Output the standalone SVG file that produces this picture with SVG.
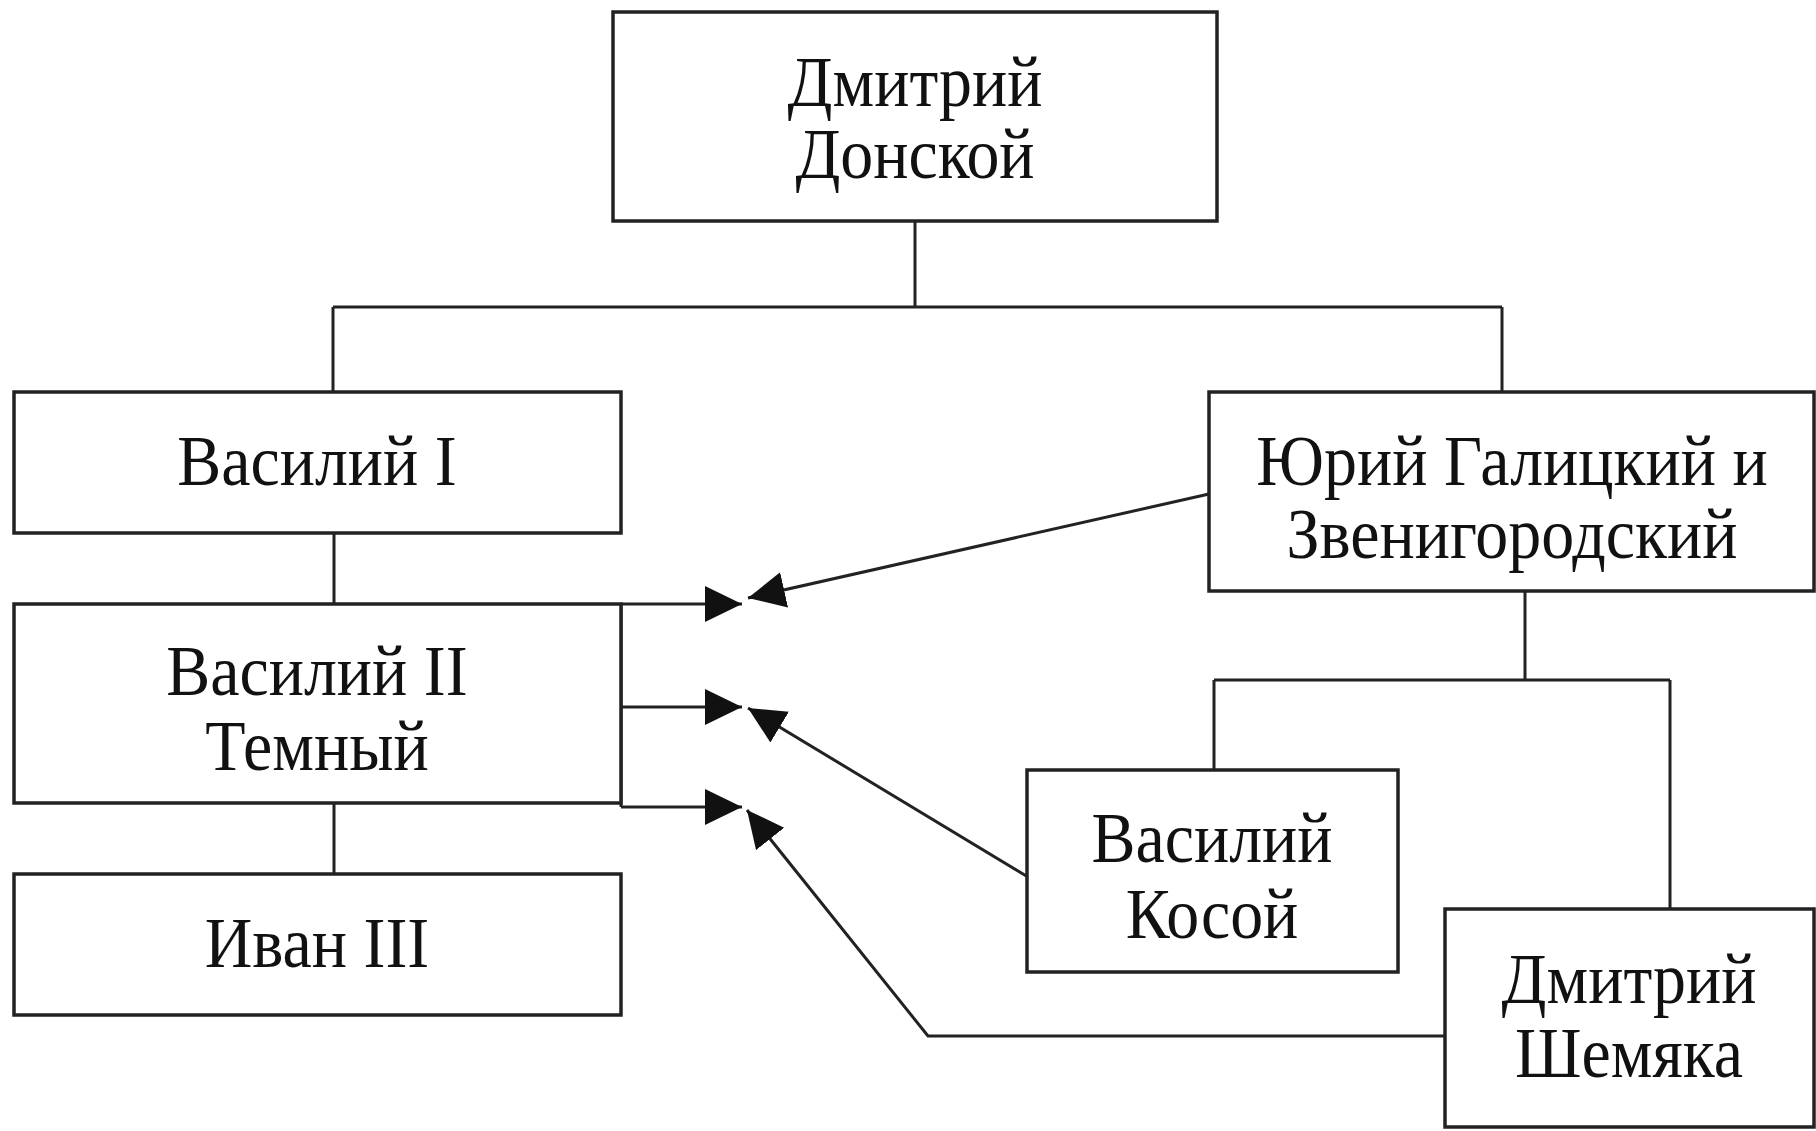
<svg xmlns="http://www.w3.org/2000/svg" width="1816" height="1131" viewBox="0 0 1816 1131">
<style>
.box{fill:#fff;stroke:#222;stroke-width:3.5}
.ln{fill:none;stroke:#222;stroke-width:3}
.t{font-family:"Liberation Serif","Times New Roman",serif;font-size:72px;fill:#111;text-anchor:middle}
</style>
<defs>
<marker id="ah" markerUnits="userSpaceOnUse" markerWidth="40" markerHeight="38" refX="37" refY="18" orient="auto">
<path d="M0,0 L37,18 L0,36 z" fill="#111"/>
</marker>
</defs>
<rect width="1816" height="1131" fill="#fff"/>
<g id="connectors">
<path class="ln" d="M915,221 V307 M333,307 H1502 M333,307 V392 M1502,307 V392"/>
<path class="ln" d="M334,533 V604 M334,803 V874"/>
<path class="ln" d="M1525,591 V680 M1214,680 H1670 M1214,680 V770 M1670,680 V909"/>
<path class="ln" d="M621,604 V807"/>
<line class="ln" x1="621" y1="604" x2="742" y2="604" marker-end="url(#ah)"/>
<line class="ln" x1="621" y1="707" x2="742" y2="707" marker-end="url(#ah)"/>
<line class="ln" x1="621" y1="807" x2="742" y2="807" marker-end="url(#ah)"/>
<line class="ln" x1="1209" y1="494" x2="748" y2="598" marker-end="url(#ah)"/>
<line class="ln" x1="1028" y1="877" x2="748" y2="708" marker-end="url(#ah)"/>
<polyline class="ln" points="1445,1036 928,1036 747,810" marker-end="url(#ah)"/>
</g>
<g id="dmitry-donskoy">
<rect class="box" x="613" y="12" width="604" height="209"/>
<text class="t" transform="translate(915,106) scale(0.915,1)">Дмитрий</text>
<text class="t" transform="translate(915,178) scale(0.915,1)">Донской</text>
</g>
<g id="vasily-1">
<rect class="box" x="14" y="392" width="607" height="141"/>
<text class="t" transform="translate(317,485) scale(0.915,1)">Василий I</text>
</g>
<g id="vasily-2">
<rect class="box" x="14" y="604" width="607" height="199"/>
<text class="t" transform="translate(317,695) scale(0.915,1)">Василий II</text>
<text class="t" transform="translate(317,770) scale(0.915,1)">Темный</text>
</g>
<g id="ivan-3">
<rect class="box" x="14" y="874" width="607" height="141"/>
<text class="t" transform="translate(317,967) scale(0.915,1)">Иван III</text>
</g>
<g id="yuri">
<rect class="box" x="1209" y="392" width="605" height="199"/>
<text class="t" transform="translate(1512,485) scale(0.915,1)">Юрий Галицкий и</text>
<text class="t" transform="translate(1512,558) scale(0.915,1)">Звенигородский</text>
</g>
<g id="vasily-kosoy">
<rect class="box" x="1027" y="770" width="371" height="202"/>
<text class="t" transform="translate(1212,862) scale(0.915,1)">Василий</text>
<text class="t" transform="translate(1212,938) scale(0.915,1)">Косой</text>
</g>
<g id="dmitry-shemyaka">
<rect class="box" x="1445" y="909" width="369" height="218"/>
<text class="t" transform="translate(1629,1003) scale(0.915,1)">Дмитрий</text>
<text class="t" transform="translate(1629,1077) scale(0.915,1)">Шемяка</text>
</g>
</svg>
